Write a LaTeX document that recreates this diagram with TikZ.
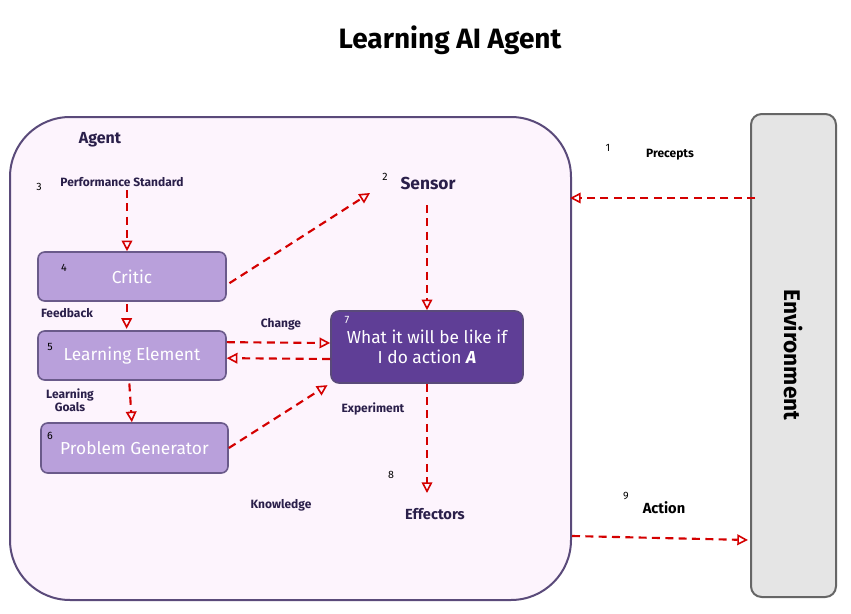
\documentclass[tikz,border=0pt]{standalone}
\usepackage{fontspec}
\setmainfont{Fira Sans}
\usetikzlibrary{arrows.meta}
\definecolor{agfill}{HTML}{FDF4FD}
\definecolor{agline}{HTML}{5A4A7A}
\definecolor{boxfill}{HTML}{B9A0DB}
\definecolor{boxline}{HTML}{6A5A8A}
\definecolor{darkbox}{HTML}{5F3E96}
\definecolor{txt}{HTML}{2A1F4A}
\definecolor{arr}{HTML}{D40000}
\begin{document}
\begin{tikzpicture}[x=0.75pt,y=-0.75pt,
  lbox/.style={draw=boxline,line width=1.2pt,fill=boxfill,rounded corners=5pt},
  ltxt/.style={text=white,font=\fontsize{13}{15}\selectfont},
  lab/.style={text=txt,font=\fontsize{9}{11}\selectfont\bfseries},
  num/.style={font=\fontsize{8}{9}\selectfont},
  link/.style={draw=arr,line width=1.6pt,dash pattern=on 6pt off 4pt,-{Triangle[open,length=8pt,width=8pt,line width=1.2pt]}}]
\useasboundingbox (0,0) rectangle (851,614);
\fill[white] (0,0) rectangle (851,614);
\node[font=\fontsize{21}{24}\selectfont\bfseries] (title) at (450,40) {Learning AI Agent};
\draw[agline,line width=1.5pt,fill=agfill,rounded corners=45pt] (10,117) rectangle (571,600);
\draw[gray!80!black,line width=1.5pt,fill=black!10,rounded corners=8pt] (751,114) rectangle (836,597);
\node[rotate=-90,font=\fontsize{17}{20}\selectfont\bfseries] (env) at (793,355) {Environment};
\node[lab,font=\fontsize{12}{14}\selectfont\bfseries] (agent) at (100,140) {Agent};
\node[lab] (perf) at (122,182) {Performance Standard};
\node[num] (n3) at (39,187) {3};
\node[lab,font=\fontsize{13}{15}\selectfont\bfseries] (sensor) at (428,183) {Sensor};
\node[num] (n2) at (385,177) {2};
\node[num] (n1) at (608,148) {1};
\node[lab,text=black] (prec) at (670,155) {Precepts};
\node[lbox,minimum width=188*0.75pt,minimum height=49*0.75pt,ltxt] (critic) at (132,276.5) {Critic};
\node[num] at (64,268) {4};
\node[lbox,minimum width=188*0.75pt,minimum height=49*0.75pt,ltxt] (le) at (132,355.5) {Learning Element};
\node[num] at (50,347) {5};
\node[lbox,minimum width=187*0.75pt,minimum height=50*0.75pt,ltxt] (pg) at (134.5,448) {Problem Generator};
\node[num] at (50,436) {6};
\node[draw=agline,line width=1.2pt,fill=darkbox,rounded corners=6pt,minimum width=192*0.75pt,minimum height=72*0.75pt,ltxt,align=center] (act) at (427,347) {What it will be like if\\I do action \textbf{\textit{A}}};
\node[num,text=white] at (347,320) {7};
\node[lab] (fb) at (67,313) {Feedback};
\node[lab,align=center,font=\fontsize{9}{10}\selectfont\bfseries] (lg) at (70,400) {Learning\\Goals};
\node[lab] (chg) at (281,324) {Change};
\node[lab] (exp) at (373,409) {Experiment};
\node[lab] (know) at (281,505) {Knowledge};
\node[num] (n8) at (391,475) {8};
\node[lab,font=\fontsize{11}{13}\selectfont\bfseries] (eff) at (435,514) {Effectors};
\node[num] (n9) at (626,496) {9};
\node[lab,text=black,font=\fontsize{11}{13}\selectfont\bfseries] (action) at (664,508) {Action};
\coordinate (pA) at (127,190);
\coordinate (sB) at (370,193);
\coordinate (sS) at (427,205);
\coordinate (e1) at (755,198);
\coordinate (e2) at (570,198);
\coordinate (a1) at (572,536);
\coordinate (a2) at (748,540);
\coordinate (ef) at (427,493);
\draw[link] (pA) -- (critic.north -| pA);
\draw[link] (critic.east) ++(2pt,-5pt) -- (sB);
\draw[link] (sS) -- (act.north -| sS);
\draw[link] ([xshift=-4pt,yshift=-2pt]critic.south) -- ([xshift=-4pt,yshift=1pt]le.north);
\draw[link] ([yshift=10pt]le.east) -- ([yshift=3pt]act.west);
\draw[link] ([yshift=-9pt]act.west) -- ([yshift=-2pt]le.east);
\draw[link] ([xshift=-2pt,yshift=-2pt]le.south) -- ([xshift=-2pt]pg.north);
\draw[link] (pg.east) -- ([xshift=-2pt,yshift=-1pt]act.south west);
\draw[link] (act.south) -- (ef);
\draw[link] (e1) -- (e2);
\draw[link] (a1) -- (a2);
\end{tikzpicture}
\end{document}
